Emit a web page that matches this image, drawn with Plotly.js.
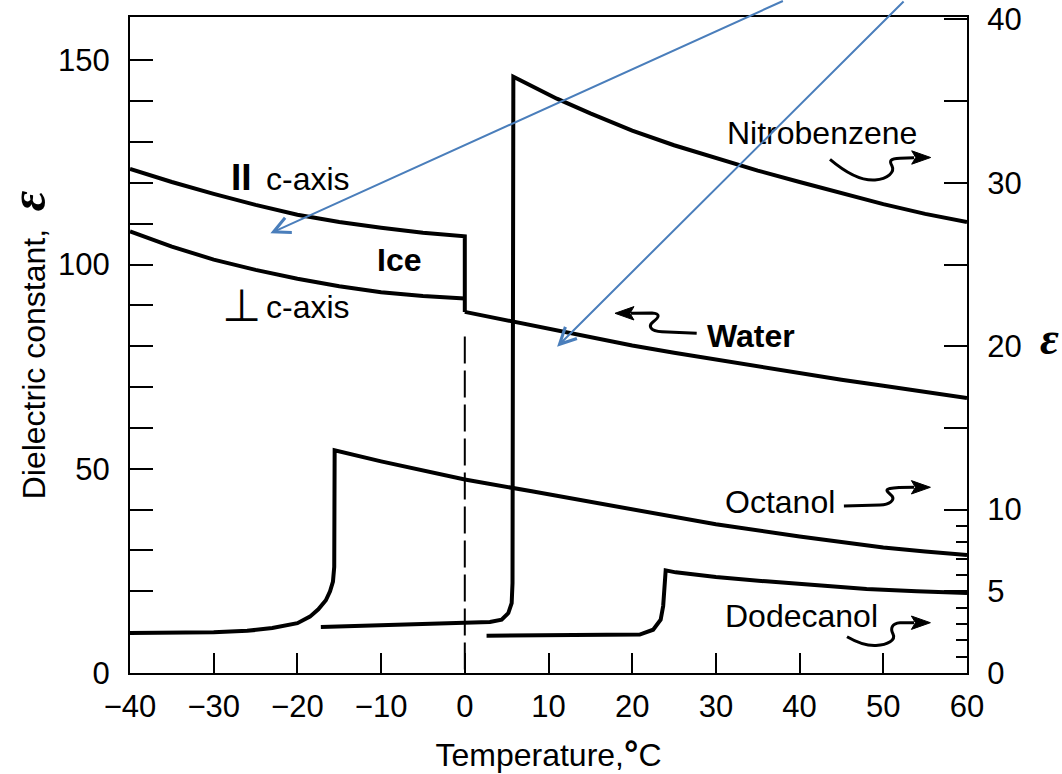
<!DOCTYPE html>
<html>
<head>
<meta charset="utf-8">
<script src="https://cdn.plot.ly/plotly-3.0.1.min.js"></script>
<style>html,body{margin:0;padding:0;background:#fff}</style>
</head>
<body>
<div id="chart" style="width:1062px;height:774px"></div>
<script>
// Dielectric constant versus temperature (°C)
// Left scale: ice (two crystal orientations) and water
const iceParallelT   = [-40, -35, -30, -25, -20, -15, -10, -5, 0, 0];
const iceParallelEps = [123.4, 120.2, 117.3, 114.6, 112.2, 110.4, 109.0, 107.8, 106.9, 88.4];
const icePerpT   = [-40, -35, -30, -25, -20, -15, -10, -5, 0];
const icePerpEps = [108.1, 104.4, 101.2, 98.7, 96.5, 94.7, 93.2, 92.3, 91.7];
const waterT   = [0, 5, 10, 15, 20, 25, 30, 35, 40, 45, 50, 55, 60];
const waterEps = [88.4, 86.3, 84.2, 82.2, 80.2, 78.4, 76.7, 75.0, 73.4, 71.8, 70.3, 68.8, 67.3];
// melting point of ice
const meltT   = [0, 0];
const meltEps = [82.4, 0];

// Right scale: organic liquids (solid below the melting jump)
const nitroT   = [-17.2, -10, -3, 3, 4.4, 5.2, 5.6, 5.7, 5.8, 8, 11, 15, 20, 25, 30, 35, 40, 45, 50, 55, 60];
const nitroEps = [2.82, 2.92, 3.04, 3.12, 3.26, 3.67, 4.28, 5.5, 36.5, 35.9, 35.15, 34.25, 33.2, 32.3, 31.5, 30.75, 30.05, 29.35, 28.7, 28.1, 27.6];
const octT   = [-40, -35, -30, -26, -23, -20, -18.5, -17.5, -16.6, -16.1, -15.75, -15.6, -15.55, -10, -5, 0, 8, 20, 30, 40, 45, 50, 55, 60];
const octEps = [2.45, 2.46, 2.49, 2.58, 2.75, 3.05, 3.45, 3.9, 4.45, 5.0, 5.6, 6.5, 13.63, 12.95, 12.4, 11.84, 11.12, 10.0, 9.1, 8.36, 8.0, 7.68, 7.43, 7.22];
const dodT   = [2.6, 10, 20.9, 22.5, 23.4, 23.7, 23.85, 24.0, 25.2, 30, 36, 42, 48, 54, 60];
const dodEps = [2.28, 2.3, 2.35, 2.65, 3.26, 4.1, 5.0, 6.28, 6.16, 5.88, 5.61, 5.37, 5.14, 5.0, 4.9];

// Axis ticks
const xTicks = [-40, -30, -20, -10, 0, 10, 20, 30, 40, 50, 60];
const leftTicks = [0, 10, 20, 30, 40, 50, 60, 70, 80, 90, 100, 110, 120, 130, 140, 150];
const leftLabels = ['0', '', '', '', '', '50', '', '', '', '', '100', '', '', '', '', '150'];
const rightTicks = [0, 5, 10, 15, 20, 25, 30, 35, 40];
const rightLabels = ['0', '5', '10', '', '20', '', '30', '', '40'];
const rightMinor = [1, 2, 3, 4, 6, 7, 8, 9];

const W = 1062, H = 774;
const M = {l: 130, r: 95, t: 17, b: 101};
const PW = W - M.l - M.r, PH = H - M.t - M.b;
const sans = 'Liberation Sans, Arial, Helvetica, sans-serif';
const serif = 'Liberation Serif, Times New Roman, serif';

// figure pixel -> paper coordinates (for pointers and overlay arrows)
const fx = p => ((p - M.l) / PW).toFixed(5);
const fy = p => ((M.t + PH - p) / PH).toFixed(5);
const pt = (x, y) => fx(x) + ',' + fy(y);

function squiggle(d) {
  // d: array of commands [cmd, x1, y1, x2, y2, ...] in figure pixels
  return d.map(c => c[0] + ' ' + c.slice(1).reduce((a, v, i, arr) => {
    if (i % 2 === 0) a.push(pt(v, arr[i + 1]));
    return a;
  }, []).join(' ')).join(' ');
}
function head(tx, ty, dir) {
  // filled arrow head pointing along dir (+1 right, -1 left)
  const L = 19 * dir, N = 15 * dir, w = 6.7;
  return 'M ' + pt(tx, ty) + ' L ' + pt(tx - L, ty - w) + ' L ' + pt(tx - N, ty) +
         ' L ' + pt(tx - L, ty + w) + ' Z';
}

const lineStyle = {color: '#000', width: 4};
const traces = [
  {x: meltT, y: meltEps, mode: 'lines', line: {color: '#000', width: 2, dash: '27px,7px'}},
  {x: iceParallelT, y: iceParallelEps, mode: 'lines', line: lineStyle},
  {x: icePerpT, y: icePerpEps, mode: 'lines', line: lineStyle},
  {x: waterT, y: waterEps, mode: 'lines', line: lineStyle},
  {x: nitroT, y: nitroEps, yaxis: 'y2', mode: 'lines', line: lineStyle},
  {x: octT, y: octEps, yaxis: 'y2', mode: 'lines', line: lineStyle},
  {x: dodT, y: dodEps, yaxis: 'y2', mode: 'lines', line: lineStyle}
];

const pointerLine = {color: '#000', width: 3};
const pointers = [
  // Nitrobenzene
  [['M', 830, 159.3], ['C', 845, 172, 860, 181, 875, 180], ['C', 888, 179, 895, 172, 892, 166],
   ['C', 889, 161, 890, 158.5, 900, 158.3], ['L', 914, 157.8]],
  // Water
  [['M', 696.7, 333.3], ['L', 662, 331.7], ['C', 650, 331, 648, 326, 653, 322],
   ['C', 659, 317.5, 661, 313.5, 652, 313], ['L', 631, 313.3]],
  // Octanol
  [['M', 843.9, 506], ['L', 880, 505], ['C', 890, 504.5, 895, 500, 892, 496],
   ['C', 888, 492, 884, 490, 890, 488.5], ['C', 895, 487.5, 900, 487.3, 914, 487.3]],
  // Dodecanol
  [['M', 847, 636.7], ['C', 858, 643, 867, 646, 876, 645.5], ['C', 888, 645, 896, 640, 893, 634],
   ['C', 890, 628, 892, 623.5, 900, 622.8], ['L', 914, 622.7]]
];
const heads = [[930.7, 157.5, 1], [615, 313.3, -1], [930.4, 487.3, 1], [930.4, 622.7, 1]];

const shapes = [];
pointers.forEach(p => shapes.push({type: 'path', xref: 'paper', yref: 'paper', path: squiggle(p), line: pointerLine}));
heads.forEach(h => shapes.push({type: 'path', xref: 'paper', yref: 'paper', path: head(h[0], h[1], h[2]),
  fillcolor: '#000', line: {color: '#000', width: 1}}));

const lab = (x, y, text, extra) => Object.assign({x: x, y: y, xref: 'x', yref: 'y', text: text, showarrow: false,
  font: {family: sans, size: 32, color: '#000'}, xanchor: 'center', yanchor: 'middle'}, extra || {});

const annotations = [
  lab(-26.7, 121.4, '<b>II</b>', {font: {family: sans, size: 37, color: '#000'}}),
  lab(-18.7, 121.0, 'c-axis'),
  lab(-26.7, 89.9, '⊥', {font: {family: 'DejaVu Sans', size: 45, color: '#000'}}),
  lab(-18.7, 89.7, 'c-axis'),
  lab(-7.86, 101.2, '<b>Ice</b>'),
  lab(42.7, 132.2, 'Nitrobenzene'),
  lab(34.2, 82.5, '<b>Water</b>'),
  lab(37.6, 41.8, 'Octanol'),
  lab(40.2, 13.9, 'Dodecanol'),
  // right-hand axis symbol
  {xref: 'paper', yref: 'paper', x: fx(1049), y: fy(338), text: '<b><i>ε</i></b>', showarrow: false,
   font: {family: serif, size: 46, color: '#000'}, xanchor: 'center', yanchor: 'middle'},
  // overlay arrows
  {xref: 'paper', yref: 'paper', x: fx(270.4), y: fy(233.3), ax: 514, ay: -233, axref: 'pixel', ayref: 'pixel',
   text: '', showarrow: true, arrowhead: 5, arrowwidth: 2, arrowsize: 1.6, arrowcolor: '#4a7ebb'},
  {xref: 'paper', yref: 'paper', x: fx(557.1), y: fy(346.7), ax: 348, ay: -347, axref: 'pixel', ayref: 'pixel',
   text: '', showarrow: true, arrowhead: 5, arrowwidth: 2, arrowsize: 1.6, arrowcolor: '#4a7ebb'}
];

const axisCommon = {
  showgrid: false, zeroline: false, showline: true, linecolor: '#000', linewidth: 2,
  ticks: 'inside', tickcolor: '#000', tickwidth: 2,
  tickfont: {family: sans, size: 31, color: '#000'}, fixedrange: true
};

const layout = {
  width: W, height: H, margin: M, showlegend: false,
  paper_bgcolor: '#fff', plot_bgcolor: '#fff',
  font: {family: sans, color: '#000'},
  xaxis: Object.assign({}, axisCommon, {
    range: [-40, 60], tickmode: 'array', tickvals: xTicks, ticklen: 20, mirror: true,
    ticklabelstandoff: 5,
    title: {text: 'Temperature,<span style="font-size:36px"><b>°</b></span>C', font: {family: sans, size: 32}, standoff: 23}
  }),
  yaxis: Object.assign({}, axisCommon, {
    range: [0, 160.6], tickmode: 'array', tickvals: leftTicks, ticktext: leftLabels, ticklen: 23,
    ticklabelstandoff: 12,
    title: {text: 'Dielectric constant,\u00a0\u00a0<span style="font-family:Liberation Serif;font-size:50px"><b><i>ε</i></b></span>',
            font: {family: sans, size: 32}, standoff: 14}
  }),
  yaxis2: Object.assign({}, axisCommon, {
    overlaying: 'y', side: 'right', range: [0, 40.15], tickmode: 'array',
    tickvals: rightTicks, ticktext: rightLabels, ticklen: 23, ticklabelstandoff: 12,
    minor: {tickmode: 'array', tickvals: rightMinor, ticks: 'inside', ticklen: 11, tickwidth: 2, tickcolor: '#000'}
  }),
  shapes: shapes,
  annotations: annotations
};

Plotly.newPlot('chart', traces, layout, {staticPlot: true, displayModeBar: false});
</script>
</body>
</html>
